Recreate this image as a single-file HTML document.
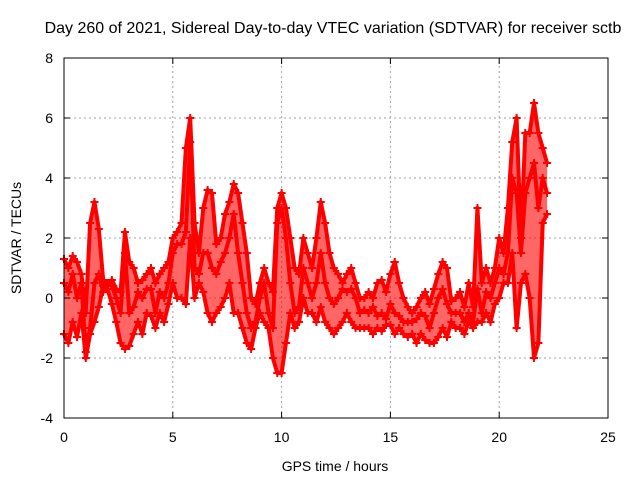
<!DOCTYPE html>
<html><head><meta charset="utf-8"><style>
body{margin:0;background:#fff}
svg text{font-family:"Liberation Sans",sans-serif;font-size:14px;fill:#000}
</style></head><body>
<svg id="chart" width="640" height="480" viewBox="0 0 640 480" xmlns="http://www.w3.org/2000/svg">
<rect width="640" height="480" fill="#fff"/>
<text x="333" y="33" text-anchor="middle" style="font-size:16px">Day 260 of 2021, Sidereal Day-to-day VTEC variation (SDTVAR) for receiver sctb</text>
<g id="grid"></g>
<g id="marks"></g>
<rect x="64" y="58" width="544" height="360" fill="none" stroke="#000" stroke-width="1"/>
<g id="ticks"></g>
<text x="335" y="471" text-anchor="middle">GPS time / hours</text>
<text x="21" y="238" text-anchor="middle" transform="rotate(-90 21 238)">SDTVAR / TECUs</text>
</svg>
<script>
const xTicks=[0,5,10,15,20,25];
const yTicks=[-4,-2,0,2,4,6,8];
const tStep=0.2;
const trackA=[1.3,1.0,1.4,1.2,0.8,-0.5,2.5,3.2,2.3,0.6,0.4,0.6,0.3,0.2,2.2,1.2,1.0,0.5,0.6,0.8,1.0,0.5,0.8,1.0,1.2,2.0,2.2,2.5,5.0,6.0,2.5,1.5,3.0,3.6,3.5,1.8,2.0,2.8,3.2,3.8,3.5,2.5,1.5,0.0,-0.2,0.5,1.0,0.5,0.2,3.0,3.5,3.0,2.0,1.0,0.8,2.0,1.5,1.0,2.0,3.2,2.5,1.5,1.0,0.8,0.5,0.8,1.0,0.5,0.0,0.0,0.2,0.0,0.5,0.6,0.2,0.8,1.2,0.5,0.0,-0.3,-0.5,-0.3,0.0,0.2,-0.2,0.3,0.8,1.2,1.0,-0.1,0.0,0.2,-0.3,0.5,-0.3,3.0,0.5,1.0,0.5,1.0,2.0,1.5,3.0,5.2,6.0,2.0,5.5,5.5,6.5,5.5,5.0,4.5];
const trackB=[0.5,0.2,0.8,0.0,0.5,-1.8,-1.0,0.5,0.8,0.2,0.5,0.4,0.0,-0.5,1.5,-0.5,-0.3,0.2,0.0,0.3,0.3,-0.5,0.2,0.0,0.5,1.5,1.8,1.8,2.2,5.2,1.0,0.8,1.5,1.5,1.0,0.8,1.2,1.5,2.0,2.8,1.5,0.5,-0.5,-1.0,-0.8,0.0,0.5,-0.5,-1.0,2.5,3.0,2.0,0.5,-0.5,-0.3,1.0,0.5,0.0,0.5,1.5,0.5,0.0,-0.2,0.0,0.3,0.2,0.3,0.0,-0.5,-0.4,-0.5,-0.3,-0.6,-0.5,-0.7,-0.2,-0.5,-0.6,-0.8,-0.8,-0.8,-0.7,-0.5,-0.6,-1.0,-0.5,0.0,0.3,-0.2,-0.5,-0.5,-0.5,-0.8,-0.5,-0.8,0.3,-0.5,0.2,0.0,0.5,1.0,0.8,1.5,4.0,3.5,1.5,3.5,4.0,4.5,3.0,4.0,3.5];
const trackC=[-1.2,-1.5,-0.8,-1.3,-0.5,-2.0,-1.2,-0.8,-0.3,0.4,0.3,-0.2,-0.8,-1.5,-1.7,-1.6,-1.2,-0.8,-1.2,-0.5,-0.6,-1.0,-0.5,-0.8,-0.2,0.5,0.0,0.0,-0.2,2.0,0.0,0.5,0.2,-0.5,-0.8,-0.5,-0.3,0.0,0.5,-0.5,-0.5,-1.0,-1.5,-1.7,-1.0,-0.5,-0.8,-1.0,-2.0,-2.5,-2.5,-1.5,-0.5,-1.0,-0.8,0.0,-0.5,-0.5,-0.8,-0.3,-0.8,-1.0,-1.2,-1.0,-0.8,-0.5,-0.8,-1.0,-1.0,-1.0,-1.0,-1.2,-1.0,-1.1,-0.9,-0.9,-1.2,-1.0,-1.2,-1.3,-1.2,-1.5,-1.2,-1.4,-1.5,-1.5,-1.3,-1.0,-1.3,-0.8,-1.0,-1.0,-1.2,-0.8,-1.0,-0.8,-0.8,-0.5,-0.8,-0.2,0.0,0.5,0.5,1.5,-1.0,0.5,0.8,0.0,-2.0,-1.5,2.5,2.8];
const tracks=[trackA,trackB,trackC];
const X0=64,X1=608,Y0=418,Y1=58;
const xs=v=>X0+(v-0)/(25-0)*(X1-X0);
const ys=v=>Y0-(v+4)/12*(Y0-Y1);
const NS="http://www.w3.org/2000/svg";
const grid=document.getElementById('grid'),ticks=document.getElementById('ticks'),marks=document.getElementById('marks');
function mk(tag,attrs,parent){const e=document.createElementNS(NS,tag);for(const k in attrs)e.setAttribute(k,attrs[k]);parent.appendChild(e);return e;}
xTicks.forEach(v=>{const x=xs(v);
 if(v>0&&v<25){const g=mk('line',{x1:x,x2:x,y1:Y0,y2:Y1,stroke:'#a0a0a0','stroke-dasharray':'2,3'},grid);
 
 }
 const t=mk('line',{x1:x,x2:x,y1:Y0,y2:Y0-6,stroke:'#000'},ticks);
 
 
 const t2=mk('line',{x1:x,x2:x,y1:Y1,y2:Y1+6,stroke:'#000'},ticks);
 
 
 const l=mk('text',{x:x,y:442,'text-anchor':'middle'},ticks);l.textContent=v;
 
 
});
yTicks.forEach(v=>{const y=ys(v);
 if(v>-4&&v<8){const g=mk('line',{x1:X0,x2:X1,y1:y,y2:y,stroke:'#a0a0a0','stroke-dasharray':'2,3'},grid);
 
 }
 const t=mk('line',{x1:X0,x2:X0+6,y1:y,y2:y,stroke:'#000'},ticks);
 
 
 const t2=mk('line',{x1:X1,x2:X1-6,y1:y,y2:y,stroke:'#000'},ticks);
 
 
 const l=mk('text',{x:53,y:y+5,'text-anchor':'end'},ticks);l.textContent=v;
 
 
});
// filled envelope between upper and lower tracks
const up=trackA.map((v,i)=>xs(i*tStep)+','+ys(Math.max(v,trackB[i],trackC[i])));
const lo=trackC.map((v,i)=>xs(i*tStep)+','+ys(Math.min(v,trackB[i],trackA[i]))).reverse();
const env=mk('polygon',{points:up.concat(lo).join(' '),fill:'#ff0000','fill-opacity':0.6,stroke:'none'},marks);


tracks.forEach(tr=>{
 const pts=tr.map((v,i)=>xs(i*tStep)+','+ys(v)).join(' ');
 const pl=mk('polyline',{points:pts,stroke:'#ff0000','stroke-width':4,fill:'none','stroke-linejoin':'round'},marks);
 
 
});
let d='';
tracks.forEach(tr=>tr.forEach((v,i)=>{const x=xs(i*tStep),y=ys(v);d+=`M${x-4} ${y}h8M${x} ${y-4}v8`;}));
const p=mk('path',{d:d,stroke:'#ff0000','stroke-width':2,fill:'none'},marks);


</script>
</body></html>
